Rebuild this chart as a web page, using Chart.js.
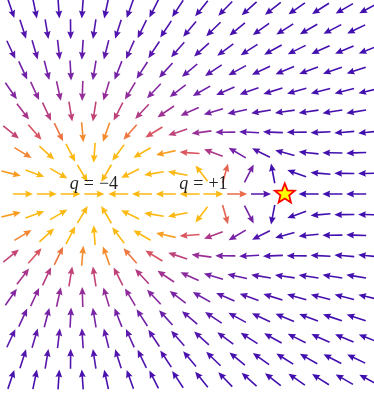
<!DOCTYPE html>
<html><head><meta charset="utf-8">
<script src="https://cdn.jsdelivr.net/npm/chart.js@4.4.1/dist/chart.umd.min.js"></script>
<style>html,body{margin:0;padding:0;background:#fff;}canvas{display:block;}</style>
</head><body>
<canvas id="c" width="374" height="394"></canvas>
<script>
// ---- data ----
const chargeX = [-0.45, 4];
const chargeY = [0, 0];
const chargeQ = [-4, 1];
const fieldPower = 1.7;            // |E| ~ q / r^p
const labelText = ['q = −4', 'q = +1'];
const labelX = [-0.52, 4.08];
const labelY = [0.32, 0.32];
const starX = [7.5];
const starY = [0];
// hexagonal sample grid
const rowIndex = [-9,-8,-7,-6,-5,-4,-3,-2,-1,0,1,2,3,4,5,6,7,8,9];
const rowStep = 1.3;
const evenCols = [-3.5, 10.5];     // first/last column on even rows
const oddCols = [-4, 11];          // first/last column on odd rows
// colour scale: field magnitude -> colour
const colorMag = [0.02, 0.045, 0.07, 0.10, 0.15, 0.21, 0.28, 0.33, 0.40, 0.50];
const colorHex = ['#3d0eb0','#4611ae','#5a17ad','#7623a6','#9a2f96','#c04279','#dc585f','#f07a3c','#f9a11e','#fdb913'];

// ---- build grid points ----
const gridPts = [];
rowIndex.forEach(k => {
  const c = (Math.abs(k) % 2 === 0) ? evenCols : oddCols;
  for (let x = c[0]; x <= c[1] + 1e-9; x += 1) gridPts.push({x: x, y: k * rowStep});
});

function field(x, y) {
  let ex = 0, ey = 0;
  for (let i = 0; i < chargeX.length; i++) {
    const rx = x - chargeX[i], ry = y - chargeY[i];
    const r = Math.hypot(rx, ry);
    const f = chargeQ[i] / Math.pow(r, fieldPower + 1);
    ex += f * rx; ey += f * ry;
  }
  return [ex, ey];
}
function hexToRgb(h){return [parseInt(h.slice(1,3),16),parseInt(h.slice(3,5),16),parseInt(h.slice(5,7),16)];}
function colorFor(m) {
  if (m <= colorMag[0]) return colorHex[0];
  if (m >= colorMag[colorMag.length-1]) return colorHex[colorHex.length-1];
  const lm = Math.log(m);
  for (let i = 0; i < colorMag.length-1; i++) {
    const a = Math.log(colorMag[i]), b = Math.log(colorMag[i+1]);
    if (lm >= a && lm <= b) {
      const t = (lm - a) / (b - a);
      const c0 = hexToRgb(colorHex[i]), c1 = hexToRgb(colorHex[i+1]);
      const c = c0.map((v, j) => Math.round(v + (c1[j] - v) * t));
      return 'rgb(' + c.join(',') + ')';
    }
  }
  return colorHex[0];
}
function drawArrow(ctx, cx, cy, ux, uy, color) {
  const L = 20, hl = 7, hw = 3.4, sw = 0.8;
  const tx = cx - ux*L/2, ty = cy - uy*L/2;
  const hx = cx + ux*L/2, hy = cy + uy*L/2;
  const bx = hx - ux*hl, by = hy - uy*hl;
  const nx = -uy, ny = ux;
  ctx.beginPath();
  ctx.moveTo(tx + nx*sw, ty + ny*sw);
  ctx.lineTo(bx + nx*sw, by + ny*sw);
  ctx.lineTo(bx - ux*0.8 + nx*hw, by - uy*0.8 + ny*hw);
  ctx.lineTo(hx, hy);
  ctx.lineTo(bx - ux*0.8 - nx*hw, by - uy*0.8 - ny*hw);
  ctx.lineTo(bx - nx*sw, by - ny*sw);
  ctx.lineTo(tx - nx*sw, ty - ny*sw);
  ctx.closePath();
  ctx.fillStyle = color;
  ctx.fill();
}
function drawStar(ctx, cx, cy, R, r) {
  ctx.beginPath();
  for (let i = 0; i < 10; i++) {
    const ang = -Math.PI/2 + i * Math.PI/5;
    const rad = (i % 2 === 0) ? R : r;
    const px = cx + rad*Math.cos(ang), py = cy + rad*Math.sin(ang);
    if (i === 0) ctx.moveTo(px, py); else ctx.lineTo(px, py);
  }
  ctx.closePath();
  ctx.fillStyle = '#ffff00';
  ctx.fill();
  ctx.lineWidth = 1.8;
  ctx.strokeStyle = '#ff0000';
  ctx.lineJoin = 'miter';
  ctx.stroke();
}

const fieldPlugin = {
  id: 'fieldPlugin',
  afterDatasetsDraw(chart) {
    const ctx = chart.ctx;
    const xs = chart.scales.x, ys = chart.scales.y;
    const sx = xs.getPixelForValue(1) - xs.getPixelForValue(0);
    const sy = ys.getPixelForValue(0) - ys.getPixelForValue(1);
    const meta = chart.getDatasetMeta(0);
    const starPx = starX.map((v, i) => [xs.getPixelForValue(v), ys.getPixelForValue(starY[i])]);
    ctx.save();
    meta.data.forEach((el, i) => {
      const d = gridPts[i];
      if (starPx.some(s => Math.hypot(s[0]-el.x, s[1]-el.y) < 4)) return;
      const E = field(d.x, d.y);
      const m = Math.hypot(E[0], E[1]);
      let ux = E[0]*sx, uy = -E[1]*sy;
      const n = Math.hypot(ux, uy);
      if (!isFinite(n) || n === 0) return;
      ux /= n; uy /= n;
      drawArrow(ctx, el.x, el.y, ux, uy, colorFor(m));
    });
    starPx.forEach(s => drawStar(ctx, s[0], s[1], 10.5, 4.6));
    // labels
    ctx.fillStyle = '#222';
    ctx.textBaseline = 'alphabetic';
    labelText.forEach((t, i) => {
      const first = t[0], rest = t.slice(1);
      const parts = rest.split(' ').filter(s => s.length);
      ctx.font = 'italic 18px "Liberation Serif"';
      const w0 = ctx.measureText(first).width;
      ctx.font = '18px "Liberation Serif"';
      const gap = 5;
      const ws = parts.map(p => ctx.measureText(p).width);
      const total = w0 + ws.reduce((a, b) => a + b, 0) + gap * parts.length;
      let x = xs.getPixelForValue(labelX[i]) - total/2;
      const y = ys.getPixelForValue(labelY[i]);
      ctx.font = 'italic 18px "Liberation Serif"';
      ctx.fillText(first, x, y); x += w0 + gap;
      ctx.font = '18px "Liberation Serif"';
      parts.forEach((p, j) => { ctx.fillText(p, x, y); x += ws[j] + gap; });
    });
    ctx.restore();
  }
};

new Chart(document.getElementById('c'), {
  type: 'scatter',
  data: { datasets: [{ data: gridPts, pointRadius: 0, pointHoverRadius: 0, showLine: false }] },
  options: {
    responsive: false, animation: false, devicePixelRatio: 1,
    layout: { padding: 0 },
    events: [],
    plugins: { legend: { display: false }, tooltip: { enabled: false } },
    scales: {
      x: { type: 'linear', min: -4.466, max: 11.248, display: false },
      y: { type: 'linear', min: -12.621, max: 12.243, display: false }
    }
  },
  plugins: [fieldPlugin]
});
</script>
</body></html>
